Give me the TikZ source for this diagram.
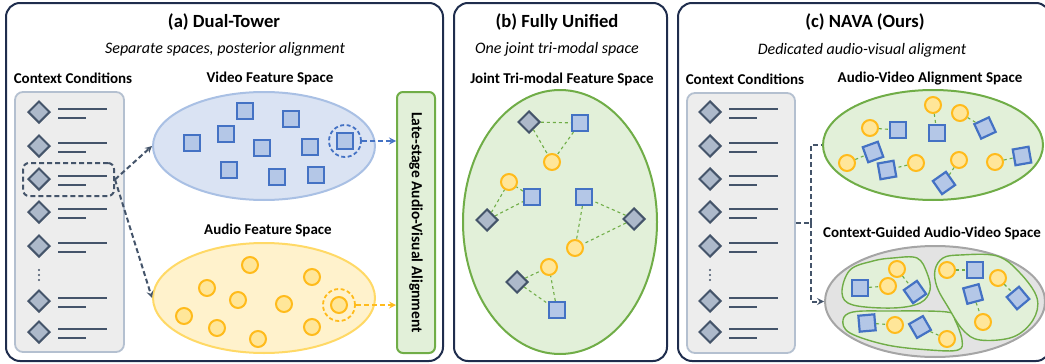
\documentclass[tikz,border=0pt]{standalone}
\usepackage{fontspec}
\usepackage{graphicx}
\setmainfont{Carlito}
\usetikzlibrary{shapes.geometric,arrows,positioning}

\definecolor{frame}{HTML}{1F2D4D}
\definecolor{slate}{HTML}{44546A}
\definecolor{condfill}{HTML}{ADB9CA}
\definecolor{ctxfill}{HTML}{EDEDED}
\definecolor{ctxline}{HTML}{B4C0D0}
\definecolor{vidfill}{HTML}{DAE3F3}
\definecolor{vidline}{HTML}{A9C0E4}
\definecolor{sqfill}{HTML}{B4C7E7}
\definecolor{sqline}{HTML}{4472C4}
\definecolor{audfill}{HTML}{FFF2CC}
\definecolor{audline}{HTML}{FFD966}
\definecolor{cifill}{HTML}{FFE699}
\definecolor{ciline}{HTML}{FFBB1C}
\definecolor{grfill}{HTML}{E2F0D9}
\definecolor{grline}{HTML}{70AD47}
\definecolor{gyfill}{HTML}{E3E3E3}
\definecolor{gyline}{HTML}{A5A5A5}

\begin{document}
\begin{tikzpicture}[x=1pt,y=-1pt,
  panel/.style={draw=frame, line width=2pt, rounded corners=14pt},
  paneltitle/.style={font=\bfseries\fontsize{18.6}{20}\selectfont},
  panelsub/.style={font=\itshape\fontsize{16}{18}\selectfont},
  spacelbl/.style={font=\bfseries\fontsize{15}{17}\selectfont},
  ctxbox/.style={draw=ctxline, fill=ctxfill, line width=1.8pt, rounded corners=8pt},
  cond/.style={diamond, draw=slate, fill=condfill, line width=2pt, inner sep=0pt, minimum width=22pt, minimum height=22pt},
  bar/.style={slate, line width=2pt},
  vsq/.style={rectangle, draw=sqline, fill=sqfill, line width=2.2pt, inner sep=0pt, minimum size=16pt},
  acirc/.style={circle, draw=ciline, fill=cifill, line width=2pt, inner sep=0pt, minimum size=16pt},
  space/.style={ellipse, line width=2pt, inner sep=0pt},
  ring/.style={circle, dash pattern=on 4pt off 2.5pt, line width=1.8pt, minimum size=32pt},
  arrow/.style={->,>=stealth},
  longdash/.style={dash pattern=on 5pt off 3pt},
  link/.style={grline, dashed, line width=1.1pt},
  ctxarrow/.style={arrow, slate, longdash, line width=2pt}
]
\useasboundingbox (0,0) rectangle (1045,364);

% Panels
\draw[panel] (6,3) rectangle (443,361);
\draw[panel] (454,3) rectangle (667,361);
\draw[panel] (678,3) rectangle (1050,361);

% ---------------- (a) Dual-Tower ----------------
\node[paneltitle] (ta) at (224,22) {(a) Dual-Tower};
\node[panelsub] (sa) at (225,49) {Separate spaces, posterior alignment};
\node[spacelbl] (lca) at (73,78) {Context Conditions};
\node[spacelbl] (lva) at (270,78) {Video Feature Space};
\node[spacelbl] (laa) at (268,230) {Audio Feature Space};

% Context conditions
\node[ctxbox, minimum width=109pt, minimum height=260pt] (ctxa) at (69.5,222) {};
\foreach \y [count=\i] in {112,146,179,212,246,301,332} {
  \node[cond] (ca\i) at (39,\y) {};
  \draw[bar] (58,{\y-3}) -- (107,{\y-3});
  \draw[bar] (58,{\y+6}) -- (86,{\y+6});
}
\foreach \d in {270,275,280} \fill[slate] (39,\d) circle (1.2pt);
\node[draw=slate, longdash, line width=2pt, rounded corners=6pt,
  minimum width=91pt, minimum height=33pt] (sel) at (68.5,179.5) {};

% Video feature space
\node[space, draw=vidline, fill=vidfill, minimum width=222pt, minimum height=108pt] (vspace) at (264,146) {};
\node[vsq] (v1) at (245,111) {};
\node[vsq] (v2) at (291,119) {};
\node[vsq] (v3) at (226,134) {};
\node[vsq] (v4) at (192,143) {};
\node[vsq] (v5) at (262,148) {};
\node[vsq] (v6) at (310,147) {};
\node[vsq] (v7) at (345,141) {};
\node[vsq] (v8) at (229,170) {};
\node[vsq] (v9) at (277,177) {};
\node[vsq] (v10) at (316,175) {};
\node[ring, draw=sqline] (vring) at (v7) {};

% Audio feature space
\node[space, draw=audline, fill=audfill, minimum width=222pt, minimum height=110pt] (aspace) at (264,298) {};
\node[acirc] (a1) at (250,265) {};
\node[acirc] (a2) at (312,277) {};
\node[acirc] (a3) at (207,288) {};
\node[acirc] (a4) at (238,300) {};
\node[acirc] (a5) at (284,304) {};
\node[acirc] (a6) at (339,305) {};
\node[acirc] (a7) at (184,316) {};
\node[acirc] (a8) at (217,328) {};
\node[acirc] (a9) at (312,327) {};
\node[acirc] (a10) at (258,339) {};
\node[ring, draw=ciline] (aring) at (a6) {};

% Late-stage alignment
\node[draw=grline, fill=grfill, line width=2pt, rounded corners=6pt,
  minimum width=38pt, minimum height=261pt, inner sep=0pt,
  font=\bfseries\fontsize{15.5}{17}\selectfont] (late) at (416,222.5)
  {\rotatebox{-90}{Late-stage Audio-Visual Alignment}};

% Connections
\draw[ctxarrow] (sel.east) -- (vspace.west);
\draw[ctxarrow] (sel.east) -- (aspace.west);
\draw[arrow, sqline, longdash, line width=2pt] (vring.east) -- (vring.east -| late.west);
\draw[arrow, ciline, longdash, line width=2pt] (aring.east) -- (aring.east -| late.west);

% ---------------- (b) Fully Unified ----------------
\node[paneltitle] (tb) at (557,22) {(b) Fully Unified};
\node[panelsub] (sb) at (557,49) {One joint tri-modal space};
\node[spacelbl] (ljb) at (562,79) {Joint Tri-modal Feature Space};
\node[space, draw=grline, fill=grfill, minimum width=194pt, minimum height=264pt] (jspace) at (560,222) {};

% Group 1
\node[cond] (b1d) at (529,122) {};
\node[vsq] (b1s) at (580,123) {};
\node[acirc] (b1c) at (552,162) {};
% Group 2
\node[acirc] (b2c) at (509,182) {};
\node[vsq] (b2s) at (532,197) {};
\node[cond] (b2d) at (487,220) {};
% Group 3
\node[vsq] (b3s) at (584,197) {};
\node[cond] (b3d) at (634,219) {};
\node[acirc] (b3c) at (575,248) {};
% Group 4
\node[acirc] (b4c) at (549,267) {};
\node[cond] (b4d) at (517,282) {};
\node[vsq] (b4s) at (557,310) {};

\foreach \g in {1,2,3,4} {
  \draw[link] (b\g d) -- (b\g s);
  \draw[link] (b\g d) -- (b\g c);
  \draw[link] (b\g s) -- (b\g c);
}

% ---------------- (c) NAVA ----------------
\node[paneltitle] (tc) at (865,22) {(c) NAVA (Ours)};
\node[panelsub] (sc) at (862,50) {Dedicated audio-visual aligment};
\node[spacelbl] (lcc) at (745,79) {Context Conditions};
\node[spacelbl] (lav) at (930,79) {Audio-Video Alignment Space};
\node[spacelbl] (lcg) at (932,233) {Context-Guided Audio-Video Space};

% Context conditions
\node[ctxbox, minimum width=108pt, minimum height=260pt] (ctxc) at (741,223) {};
\foreach \y [count=\i] in {112,146,179,212,246,301,332} {
  \node[cond] (cc\i) at (710,\y) {};
  \draw[bar] (729,{\y-3}) -- (778,{\y-3});
  \draw[bar] (729,{\y+6}) -- (757,{\y+6});
}
\foreach \d in {270,275,280} \fill[slate] (710,\d) circle (1.2pt);

% Audio-video alignment space
\node[space, draw=grline, fill=grfill, minimum width=220pt, minimum height=110pt] (avspace) at (933,145) {};
\node[acirc] (p1c) at (870,128) {};
\node[vsq] (p1s) at (898,130) {};
\node[acirc] (p2c) at (933,105) {};
\node[vsq] (p2s) at (937,133) {};
\node[acirc] (p3c) at (960,113) {};
\node[vsq, rotate=25] (p3s) at (985,128) {};
\node[acirc] (p4c) at (847,163) {};
\node[vsq, rotate=20] (p4s) at (873,152) {};
\node[vsq, rotate=10] (p5s) at (887,170) {};
\node[acirc] (p5c) at (916,163) {};
\node[acirc] (p6c) at (959,160) {};
\node[vsq, rotate=35] (p6s) at (944,183) {};
\node[acirc] (p7c) at (995,162) {};
\node[vsq, rotate=10] (p7s) at (1022,156) {};
\foreach \p in {1,...,7} {
  \draw[link] (p\p c) -- (p\p s);
}

% Context-guided audio-video space
\node[space, draw=gyline, fill=gyfill, minimum width=220pt, minimum height=111pt] (cgspace) at (935,301.5) {};
\draw[grline, fill=grfill, line width=1.4pt] plot[smooth cycle, tension=0.6] coordinates
  {(842,293) (850,270) (873,261) (893,258) (917,258) (927,273) (930,290) (920,303) (893,308) (853,305)};
\draw[grline, fill=grfill, line width=1.4pt] plot[smooth cycle, tension=0.6] coordinates
  {(843,320) (853,312) (887,311) (947,312) (955,320) (962,340) (958,350) (930,350) (887,345) (850,333)};
\draw[grline, fill=grfill, line width=1.4pt] plot[smooth cycle, tension=0.6] coordinates
  {(935,270) (943,258) (960,255) (997,256) (1020,273) (1037,298) (1033,320) (1013,337) (980,340) (963,330) (948,307) (937,287)};

% Cluster 1
\node[acirc] (q1c) at (897,269) {};
\node[vsq] (q1s) at (860,288) {};
\node[acirc] (q2c) at (888,286) {};
\node[vsq, rotate=35] (q2s) at (915,292) {};
% Cluster 2
\node[vsq, rotate=5] (q3s) at (867,323) {};
\node[acirc] (q3c) at (895,325) {};
\node[vsq, rotate=30] (q4s) at (920,327) {};
\node[acirc] (q4c) at (947,339) {};
% Cluster 3
\node[acirc] (q5c) at (947,270) {};
\node[vsq] (q5s) at (975,270) {};
\node[acirc] (q6c) at (998,278) {};
\node[vsq, rotate=40] (q6s) at (1018,298) {};
\node[vsq, rotate=15] (q7s) at (973,294) {};
\node[acirc] (q7c) at (983,322) {};

\draw[link] (q1s) -- (q2c);
\draw[link] (q1c) -- (q2s);
\draw[link] (q3s) -- (q3c);
\draw[link] (q4s) -- (q4c);
\draw[link] (q5c) -- (q5s);
\draw[link] (q6c) -- (q6s);
\draw[link] (q7s) -- (q7c);

% Context routing
\coordinate (jn) at ([xshift=15pt]ctxc.east);
\draw[slate, longdash, line width=2pt] (ctxc.east) -- (jn);
\draw[slate, longdash, line width=2pt] (jn) |- (avspace.west);
\draw[ctxarrow] (jn) |- (cgspace.west);

\end{tikzpicture}
\end{document}
